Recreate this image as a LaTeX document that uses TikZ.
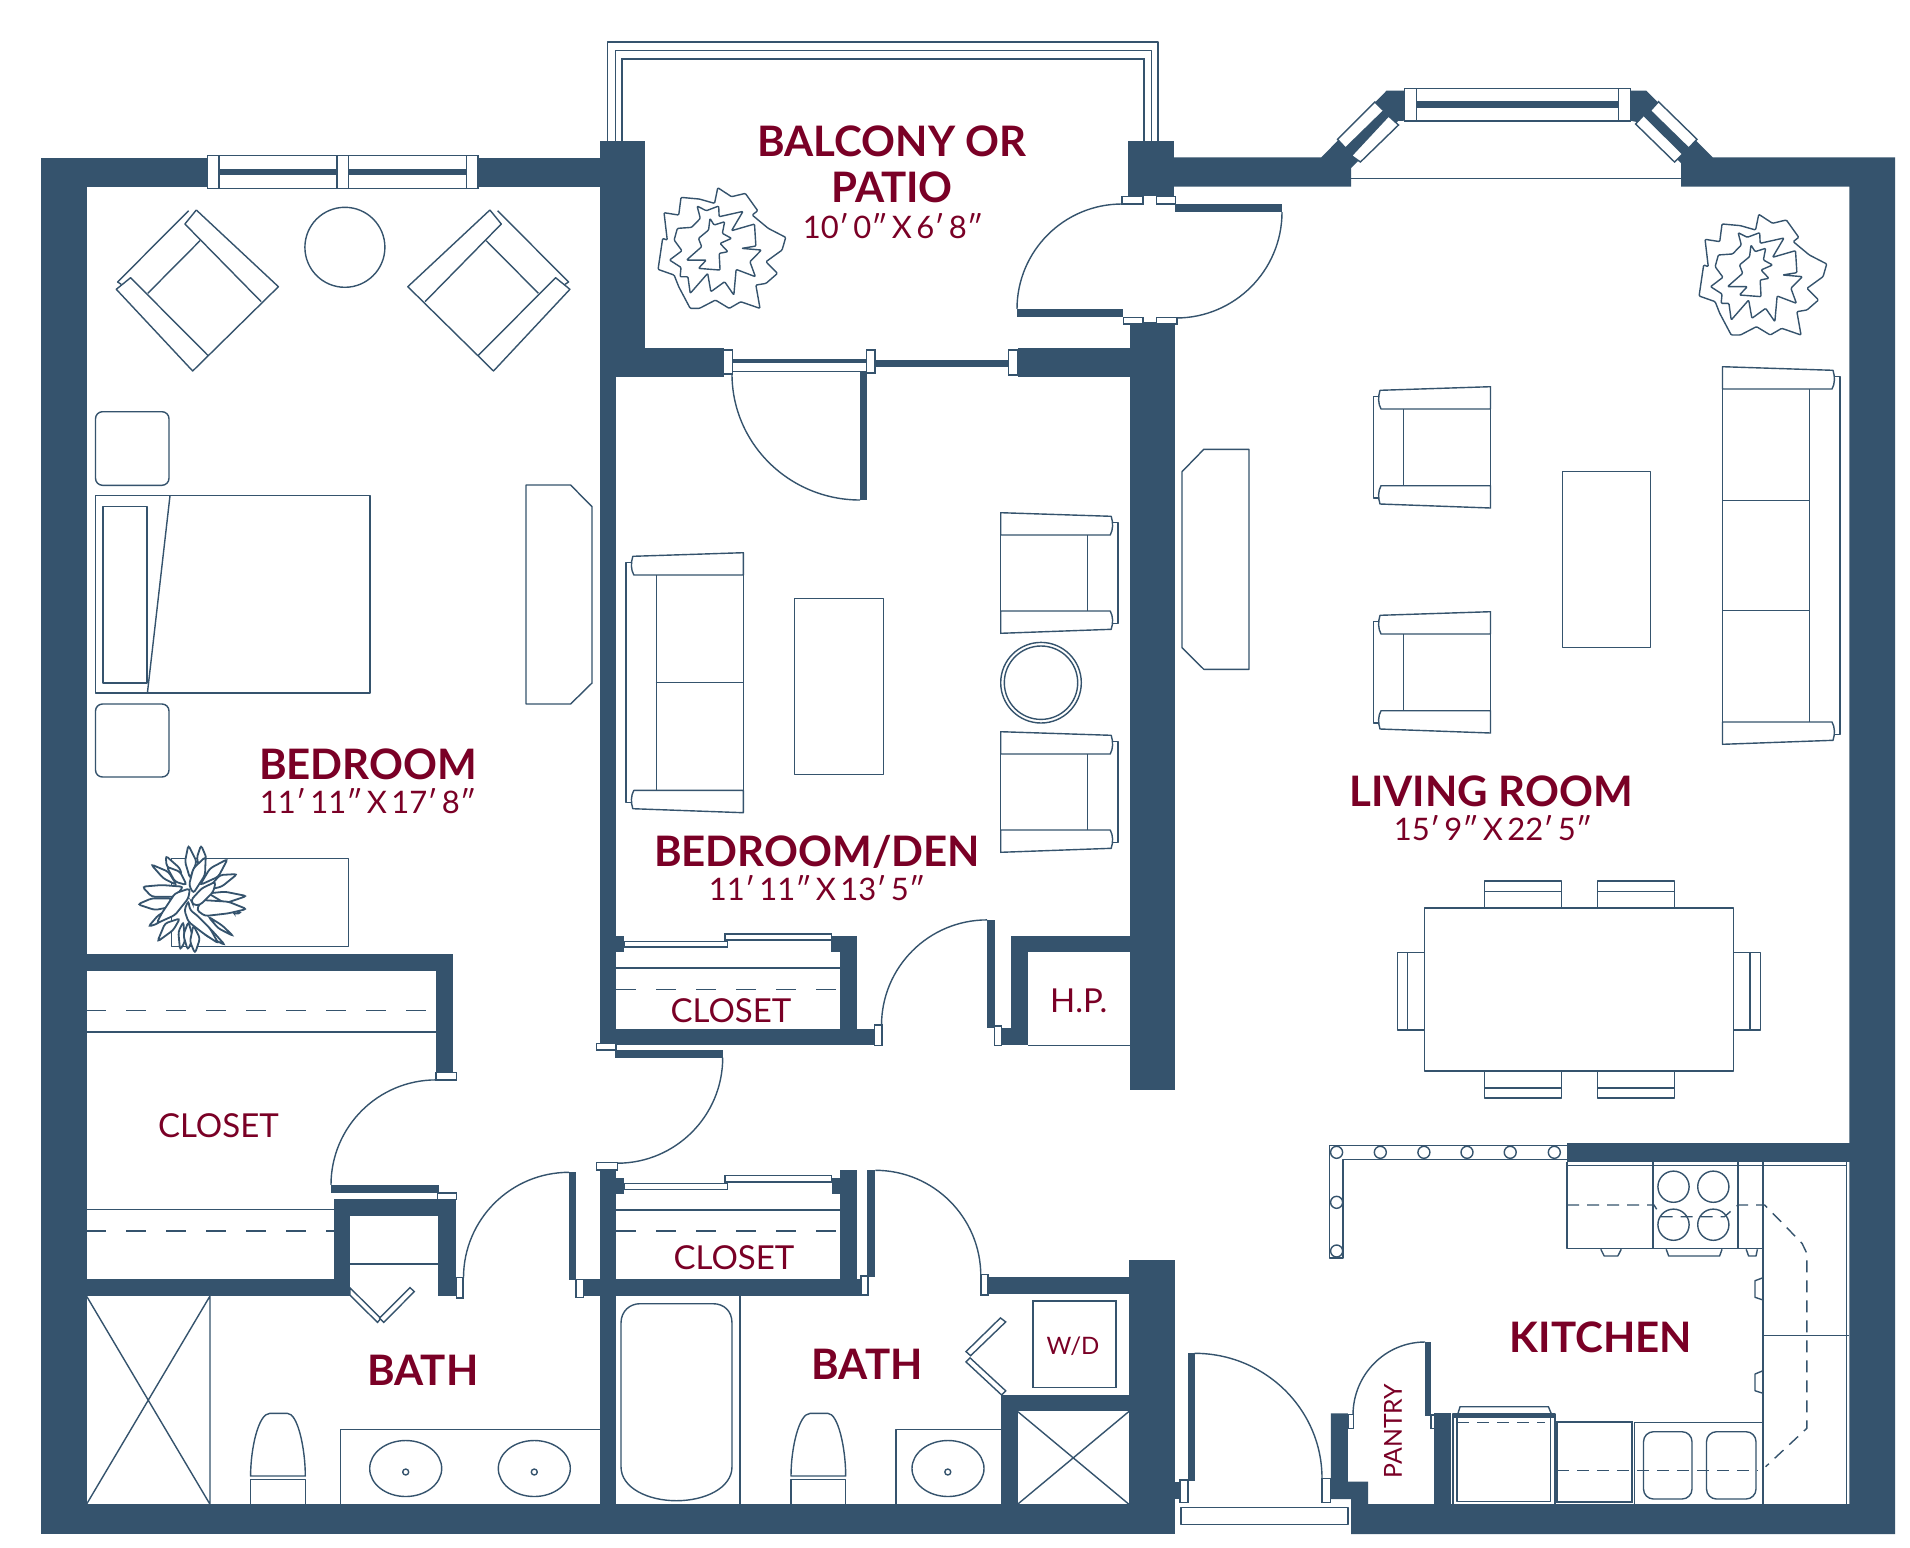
\documentclass[tikz,border=0pt]{standalone}
\usepackage{fontspec}
\setmainfont{Lato}
\usepackage{tikz}

\definecolor{wallblue}{RGB}{53,83,109}
\definecolor{roomred}{RGB}{122,0,38}

\tikzset{
	wall/.style={fill=wallblue,draw=none},
	thinline/.style={draw=wallblue,line width=0.7pt,line join=round},
	frame/.style={draw=wallblue,fill=white,line width=0.7pt},
	dashline/.style={draw=wallblue,line width=0.7pt,dash pattern=on 10pt off 10pt},
	kitchendash/.style={draw=wallblue,line width=0.7pt,dash pattern=on 6pt off 4pt},
	roomname/.style={text=roomred,font=\bfseries\fontsize{21}{21}\selectfont,inner sep=0pt},
	roomsize/.style={text=roomred,font=\fontsize{15.5}{16}\selectfont,inner sep=0pt},
	roomsmall/.style={text=roomred,font=\fontsize{16.5}{17}\selectfont,inner sep=0pt},
	leaf/.style={draw=wallblue,fill=white,line width=0.9pt,rounded corners=1.5pt}
}

% tight word spaces in the room sizes
\newcommand{\sizetext}[1]{\spaceskip=0.14em\relax #1}
% seat with two arms, also used for the sofas: x, y, direction, height
\newcommand{\seatblock}[4]{
	\begin{scope}[shift={(#1,#2)},xscale=#3]
		\draw[thinline] (0,0) -- (110.5,3.6) .. controls (112.5,10) and (112.5,17) .. (109.5,22.3) -- (0,22.3) -- cycle;
		\draw[thinline] (0,#4) -- (110.5,#4-4) .. controls (112.5,#4-10) and (112.5,#4-17) .. (109.5,#4-22.3) -- (0,#4-22.3) -- cycle;
		\draw[thinline] (0,22.3) -- (0,#4-22.3);
		\draw[thinline] (87,22.3) -- (87,#4-22.3);
		\draw[thinline] (111.5,10) -- (117.3,10) -- (117.3,#4-10) -- (111.5,#4-10);
	\end{scope}
}
% chair standing on a corner in the bedroom
\newcommand{\cornerchair}{
	\draw[thinline] (188.6,210.7) -- (117.6,282) -- (121.2,284.3);
	\draw[thinline] (196.3,210) -- (278.4,286.7) -- (192.7,371) -- (116.3,289.3) -- (130.6,277.7) -- (208.2,355.7);
	\draw[thinline] (196.3,210) -- (184.9,224) -- (261.2,301.7);
	\draw[thinline] (200,240.7) -- (147.8,293.3);
}
% toilet with its tank
\newcommand{\toilet}[1]{
	\begin{scope}[shift={(#1,0)}]
		\draw[thinline] (0,1476) .. controls (0,1448) and (8,1413.4) .. (19,1413.4) -- (37,1413.4) .. controls (47,1413.4) and (54.7,1448) .. (54.7,1476) -- cycle;
		\draw[thinline] (0,1504.3) -- (0,1479.3) -- (54.7,1479.3) -- (54.7,1504.3);
	\end{scope}
}
% bush, traced at the scale of the balcony one
\newcommand{\bush}[2]{
	\begin{scope}[shift={(#1,#2)},x=0.2296pt,y=0.1667pt]
		\draw[thinline,rounded corners=0.5pt] (300,503) -- (330,530) -- (360,520) -- (387,572) -- (375,585) -- (410,625) -- (448,652) -- (440,690) -- (405,725) -- (430,760) -- (405,790) -- (383,795) -- (392,865) -- (350,845) -- (325,865) -- (295,840) -- (260,865) -- (240,865) -- (215,800) -- (205,765) -- (170,748) -- (180,655) -- (190,660) -- (183,578) -- (215,585) -- (220,532) -- (260,537) -- (293,550) -- cycle;
		\draw[thinline,rounded corners=0.5pt] (255,558) -- (275,572) -- (302,558) -- (303,590) -- (355,574) -- (330,632) -- (380,612) -- (383,678) -- (352,685) -- (395,690) -- (370,725) -- (382,770) -- (340,748) -- (335,825) -- (315,785) -- (285,815) -- (278,760) -- (240,820) -- (235,770) -- (218,770) -- (220,742) -- (195,720) -- (222,692) -- (205,660) -- (212,625) -- (243,622) -- (262,595) -- cycle;
		\draw[thinline,rounded corners=0.5pt] (283,595) -- (292,615) -- (315,605) -- (310,640) -- (330,655) -- (305,670) -- (322,695) -- (303,700) -- (305,750) -- (258,745) -- (275,720) -- (232,720) -- (265,680) -- (258,655) -- (280,630) -- cycle;
	\end{scope}
}

\begin{document}
\begin{tikzpicture}[x=0.5pt,y=0.5pt,yscale=-1,xscale=1]
	\useasboundingbox (0,0) rectangle (1910,1547);
	\fill[white] (0,0) rectangle (1910,1547);

	%Balcony rails
	\draw[thinline] (607.5,142) -- (607.5,42) -- (1158,42) -- (1158,142);
	\draw[thinline] (615.4,142) -- (615.4,50.7) -- (1151.6,50.7) -- (1151.6,142);
	\draw[draw=wallblue,line width=1.1pt] (621.8,142) -- (621.8,58.7) -- (1143.8,58.7) -- (1143.8,142);

	%Walls
	\fill[wall] (41,157.5) rectangle (86.5,1534);
	\fill[wall] (41,157.5) rectangle (207.5,187);
	\fill[wall] (478,157.5) rectangle (600,187);
	\fill[wall] (600,141.3) rectangle (645,377);
	\fill[wall] (600,377) rectangle (616,1040.1);
	\fill[wall] (645,348) rectangle (723.5,377);
	\fill[wall] (1017.5,348) rectangle (1129.6,377);
	\fill[wall] (1127.7,141.3) rectangle (1173.7,196);
	\fill[wall] (1129.6,322) rectangle (1174.7,1089.8);
	%den closet
	\fill[wall] (616,935.5) rectangle (624,951.7);
	\fill[wall] (831.4,935.5) rectangle (856.7,951.7);
	\fill[wall] (840.4,935.5) rectangle (856.7,1045.3);
	\fill[wall] (600,1028.7) rectangle (874.7,1045.3);
	%lower closet
	\fill[wall] (600,1170) rectangle (616.3,1534);
	\fill[wall] (616,1177.7) rectangle (624,1194.3);
	\fill[wall] (840,1170) rectangle (856.7,1296);
	\fill[wall] (831.7,1177.7) rectangle (840,1194.3);
	\fill[wall] (583.7,1279.3) rectangle (860.8,1296);
	%bedroom closet
	\fill[wall] (86,953.7) rectangle (453,971);
	\fill[wall] (436,953.7) rectangle (453,1072.3);
	\fill[wall] (333.5,1199.2) rectangle (455.5,1216);
	\fill[wall] (438,1199.2) rectangle (455.5,1296);
	\fill[wall] (333.5,1199.2) rectangle (349.8,1296);
	\fill[wall] (86,1279.3) rectangle (349.8,1296);
	%H.P. closet
	\fill[wall] (1011.4,935.5) rectangle (1129.6,951.7);
	\fill[wall] (1011.4,935.5) rectangle (1028,1045.3);
	\fill[wall] (1001.6,1028) rectangle (1028,1045.3);
	%second bath and bottom
	\fill[wall] (1129,1260) rectangle (1174.7,1534);
	\fill[wall] (988,1277.4) rectangle (1129,1293.6);
	\fill[wall] (1001,1395) rectangle (1129,1411.4);
	\fill[wall] (1001,1395) rectangle (1017.5,1504.3);
	\fill[wall] (41,1504.3) rectangle (1174.7,1534);
	\fill[wall] (1174.7,1482) rectangle (1180,1499);
	%bay, living room side
	\fill[wall] (1173.7,157.3) -- (1321.4,157.3) -- (1386.5,90.7) -- (1404.5,90.7) -- (1404.5,120.7) -- (1398,121) -- (1351,168) -- (1351,186.7) -- (1173.7,186.7) -- cycle;
	\fill[wall] (1630,90.7) -- (1646.4,90.7) -- (1712.7,157.3) -- (1895,157.3) -- (1895,1534) -- (1351,1534) -- (1351,1499) -- (1330.8,1499) -- (1330.8,1413.3) -- (1347.8,1413.3) -- (1347.8,1481.7) -- (1368,1481.7) -- (1368,1504) -- (1849.3,1504) -- (1849.3,186.7) -- (1681,186.7) -- (1681,163) -- (1635.6,121.7) -- (1630,120.7) -- cycle;
	%kitchen
	\fill[wall] (1567,1143.3) rectangle (1850,1161.7);
	\fill[wall] (1433.6,1413.3) rectangle (1450.5,1504);

	%Windows
	\draw[frame] (207.3,155.7) rectangle (478,188.7);
	\draw[thinline] (219,155.7) -- (219,188.7) (337,155.7) -- (337,188.7) (348.6,155.7) -- (348.6,188.7) (466.5,155.7) -- (466.5,188.7);
	\fill[wall] (219,169.3) rectangle (337,175.3);
	\fill[wall] (348.6,169.3) rectangle (466.5,175.3);
	\draw[frame] (1404.5,88.3) rectangle (1630.3,121);
	\draw[thinline] (1416.6,88.3) -- (1416.6,121) (1618.3,88.3) -- (1618.3,121);
	\fill[wall] (1416.6,101.3) rectangle (1618.3,107.7);
	\draw[frame] (1337.5,139.3) -- (1345.5,148) -- (1383.7,110.7) -- (1374.8,102) -- cycle;
	\draw[frame] (1351.5,155.7) -- (1360.4,162) -- (1398.5,125) -- (1388.5,116) -- cycle;
	\draw[frame] (1658.5,101.7) -- (1650.4,110.7) -- (1688.6,148) -- (1697,139.3) -- cycle;
	\draw[frame] (1643.6,115.3) -- (1635.6,124) -- (1674.5,162) -- (1682.6,154) -- cycle;
	\draw[thinline] (1351,178.7) -- (1681,178.7);

	%Balcony door
	\draw[frame] (1121.8,196.7) rectangle (1142.9,204);
	\draw[frame] (1156.7,196.7) rectangle (1175.5,204);
	\draw[frame] (1123.6,317.3) rectangle (1142.9,324);
	\draw[frame] (1156.7,317.3) rectangle (1177,324);
	\fill[wall] (1174.6,203.7) rectangle (1282,212);
	\fill[wall] (1017,309) rectangle (1122.5,316.7);
	\draw[thinline] (1122,204) arc[start angle=-90,end angle=-180,radius=105];
	\draw[thinline] (1282,212) arc[start angle=0,end angle=90,radius=106];

	%Den slider and door
	\draw[frame] (732.4,360) rectangle (866.5,371.3);
	\fill[wall] (732.4,360) rectangle (866.5,362.5);
	\fill[wall] (875,360) rectangle (1008.4,366.7);
	\draw[frame] (723.7,350) rectangle (732.4,374);
	\draw[frame] (866.5,350) rectangle (874.8,373);
	\draw[frame] (1008.4,350) rectangle (1017.5,375);
	\fill[wall] (860,371) rectangle (867,500);
	\draw[thinline] (732,374) arc[start angle=180,end angle=90,x radius=128,y radius=126];

	%Closet doors of the den and the second bath
	\draw[frame] (624,941.3) rectangle (727.3,947);
	\draw[frame] (725,933.8) rectangle (831.7,940);
	\draw[frame] (624,1183.3) rectangle (727.3,1189.3);
	\draw[frame] (725,1175.7) rectangle (831.7,1182);
	\draw[thinline] (616,968.1) -- (840.4,968.1);
	\draw[dashline] (616,989.5) -- (840.4,989.5);
	\draw[thinline] (616,1210) -- (840,1210);
	\draw[dashline] (616,1231) -- (840,1231);

	%Hall doors
	\draw[frame] (874.3,1025) rectangle (882,1045.3);
	\fill[wall] (987,919.9) rectangle (995,1027.8);
	\draw[frame] (994.7,1025.8) rectangle (1001.6,1045.3);
	\draw[thinline] (987,919.9) arc[start angle=-90,end angle=-180,radius=105.5];
	\draw[thinline] (1028,1045.3) -- (1129.6,1045.3);
	\draw[frame] (596.7,1043.3) rectangle (616,1050);
	\fill[wall] (614.7,1050) rectangle (722.7,1057.7);
	\draw[thinline] (722.7,1057.7) arc[start angle=0,end angle=90,radius=105.5];
	\draw[frame] (596.7,1162.7) rectangle (617.3,1170);
	\draw[frame] (860.8,1276.1) rectangle (867.8,1295);
	\fill[wall] (867.3,1170) rectangle (875.3,1277.4);
	\draw[thinline] (875.3,1170.3) arc[start angle=-90,end angle=0,radius=105.5];
	\draw[frame] (981,1274.5) rectangle (988,1295);

	%Bedroom closet and first bath doors
	\draw[frame] (436,1072.3) rectangle (456.3,1079.9);
	\draw[thinline] (436,1079.9) arc[start angle=-90,end angle=-180,radius=105];
	\fill[wall] (330.6,1184.6) rectangle (438.8,1192.8);
	\draw[frame] (437.6,1192.8) rectangle (456.3,1199.2);
	\draw[thinline] (86,1032) -- (436,1032);
	\draw[dashline] (86,1010.3) -- (436,1010.3);
	\draw[thinline] (86,1209.5) -- (333.5,1209.5);
	\draw[dashline] (86,1231) -- (333.5,1231);
	\draw[thinline] (350,1263.8) -- (438,1263.8);
	\draw[frame] (456.3,1277.4) rectangle (463,1298);
	\draw[thinline] (569,1172.3) arc[start angle=-90,end angle=-180,radius=105.5];
	\fill[wall] (568.6,1172.3) rectangle (576,1280);
	\draw[frame] (576,1279.3) rectangle (583.7,1297.7);

	%Bi-fold doors
	\draw[frame] (349.8,1287.6) -- (349.8,1295) -- (377.5,1322.4) -- (380.8,1318.4) -- cycle;
	\draw[frame] (410,1287.6) -- (414.3,1291.6) -- (383.7,1322.4) -- (379.6,1318.1) -- cycle;
	\draw[frame] (1000.4,1317.9) -- (1005.7,1321.9) -- (970.6,1355.7) -- (966,1351.6) -- cycle;
	\draw[frame] (966,1361.9) -- (970,1357.8) -- (1005.7,1390.8) -- (1001.6,1395) -- cycle;

	%First bath fixtures
	\draw[thinline] (86.5,1296) -- (210,1504.3) (210,1296) -- (86.5,1504.3) (210,1296) -- (210,1504.3);
	\toilet{250.6}
	\draw[thinline] (340.4,1504.3) -- (340.4,1429.3) -- (600,1429.3);
	\draw[thinline] (405.7,1468.5) ellipse[x radius=36,y radius=28];
	\draw[thinline] (534.3,1468.5) ellipse[x radius=36,y radius=28];
	\draw[thinline] (405.7,1472) circle (3);
	\draw[thinline] (534.3,1472) circle (3);

	%Second bath fixtures
	\draw[thinline] (740,1296) -- (740,1504.3);
	\draw[thinline] (621,1323) .. controls (621,1311) and (630,1303.7) .. (640,1303.7) -- (713,1303.7) .. controls (724,1303.7) and (732,1311) .. (732,1323) -- (732,1466.7) .. controls (732,1488) and (705,1500.7) .. (676.5,1500.7) .. controls (648,1500.7) and (621,1488) .. (621,1466.7) -- cycle;
	\toilet{791}
	\draw[thinline] (896,1504.3) -- (896,1429.3) -- (1001,1429.3);
	\draw[thinline] (948,1468.5) ellipse[x radius=36,y radius=28];
	\draw[thinline] (947.8,1472) circle (3);
	\draw[thinline] (1017.5,1411.4) -- (1129,1504.3) (1129,1411.4) -- (1017.5,1504.3);
	\draw[draw=wallblue,line width=0.85pt] (1033,1300.8) rectangle (1116.3,1387.5);

	%Bedroom furniture
	\cornerchair
	\begin{scope}[shift={(686.2,0)},xscale=-1]
		\cornerchair
	\end{scope}
	\draw[thinline] (344.9,247.3) circle (40);
	\draw[thinline,rounded corners=3.5pt] (95.5,411.7) rectangle (169,485.3);
	\draw[thinline,rounded corners=3.5pt] (95.5,704) rectangle (169,777);
	\draw[thinline] (95.5,495.7) rectangle (369.8,693);
	\draw[thinline] (102.9,506.7) rectangle (147,683);
	\draw[thinline] (170,495.7) -- (147.4,693);
	\draw[thinline] (526,485) -- (570.6,485) -- (592,506.7) -- (592,683) -- (570.6,704) -- (526,704) -- cycle;
	\draw[thinline] (171.7,858.3) rectangle (348.3,946.7);

	%Agave
	\begin{scope}[shift={(125,835)},x=0.1667pt,y=0.1667pt]
		\draw[leaf] (190,30) -- (180,80) -- (195,130) -- (215,80) -- cycle;
		\draw[leaf] (228,30) -- (215,70) -- (225,100) -- (245,70) -- cycle;
		\draw[leaf] (122,62) -- (125,95) -- (170,120) -- (165,100) -- cycle;
		\draw[leaf] (78,88) -- (115,130) -- (155,150) -- (130,110) -- cycle;
		\draw[leaf] (125,95) -- (150,140) -- (185,150) -- (165,110) -- cycle;
		\draw[leaf] (308,72) -- (255,100) -- (225,150) -- (280,125) -- cycle;
		\draw[leaf] (337,117) -- (285,120) -- (245,165) -- (290,155) -- cycle;
		\draw[leaf] (52,155) -- (80,185) -- (150,185) -- (175,155) -- (110,150) -- cycle;
		\draw[leaf] (38,208) -- (90,225) -- (140,215) -- (140,190) -- (80,190) -- cycle;
		\draw[leaf] (365,183) -- (300,170) -- (250,175) -- (300,205) -- cycle;
		\draw[leaf] (350,232) -- (320,225) -- (330,238) -- cycle;
		\draw[leaf] (365,222) -- (310,200) -- (230,195) -- (215,225) -- (240,243) -- (310,235) -- cycle;
		\draw[leaf] (70,275) -- (100,265) -- (130,225) -- (100,240) -- cycle;
		\draw[leaf] (97,320) -- (145,285) -- (165,250) -- (120,265) -- cycle;
		\draw[leaf] (325,303) -- (290,270) -- (250,245) -- (280,280) -- cycle;
		\draw[leaf] (300,330) -- (255,280) -- (210,250) -- (240,300) -- cycle;
		\draw[leaf] (165,345) -- (180,320) -- (175,260) -- (160,290) -- cycle;
		\draw[leaf] (188,345) -- (205,310) -- (190,260) -- (175,300) -- cycle;
		\draw[leaf] (210,355) -- (225,310) -- (205,270) -- (195,320) -- cycle;
		\draw[leaf] (242,65) -- (205,100) -- (192,150) -- (205,175) -- (240,120) -- cycle;
		\draw[leaf] (190,197) -- (178,225) -- (190,260) -- (235,295) -- (280,325) -- (255,280) -- (215,240) -- (195,225) -- cycle;
		\draw[leaf] (195,160) -- (150,175) -- (110,235) -- (95,265) -- (150,240) -- (190,190) -- cycle;
		\draw[leaf] (272,140) -- (230,160) -- (198,195) -- (205,210) -- (225,210) -- (265,170) -- cycle;
	\end{scope}

	%Plants
	\bush{580}{20}
	\bush{1621}{46.6}

	%Den furniture
	\seatblock{743.3}{552.7}{-1}{260}
	\draw[thinline] (655.7,682.7) -- (743,682.7);
	\draw[thinline] (794.7,598.7) rectangle (883.3,774.7);
	\seatblock{1000.7}{512.7}{1}{120.6}
	\seatblock{1000.7}{731.7}{1}{120.6}
	\draw[thinline] (1041,682.7) circle (40.3);
	\draw[thinline] (1041,682.7) circle (36.7);

	%Living room furniture
	\draw[thinline] (1203.8,449.3) -- (1249,449.3) -- (1249,669.3) -- (1203.8,669.3) -- (1182,647.7) -- (1182,471.7) -- cycle;
	\seatblock{1490.5}{386.7}{-1}{121.3}
	\seatblock{1490.5}{611.7}{-1}{121.3}
	\draw[thinline] (1562.5,471.7) rectangle (1650.5,647.3);
	\seatblock{1722.5}{366.7}{1}{377.6}
	\draw[thinline] (1722.5,500.3) -- (1809.6,500.3) (1722.5,610.7) -- (1809.6,610.7);

	%Dining set
	\draw[thinline] (1424.3,908) rectangle (1733.3,1071);
	\foreach \chairx in {1484.3,1597.7} {
		\draw[thinline] (\chairx,908) -- (\chairx,881) -- (\chairx+77,881) -- (\chairx+77,908);
		\draw[thinline] (\chairx,891.3) -- (\chairx+77,891.3);
		\draw[thinline] (\chairx,1071) -- (\chairx,1098) -- (\chairx+77,1098) -- (\chairx+77,1071);
		\draw[thinline] (\chairx,1088) -- (\chairx+77,1088);
	}
	\draw[thinline] (1424.3,952.7) -- (1397.3,952.7) -- (1397.3,1030) -- (1424.3,1030) (1407.3,952.7) -- (1407.3,1030);
	\draw[thinline] (1733.3,952.7) -- (1760.3,952.7) -- (1760.3,1030) -- (1733.3,1030) (1750,952.7) -- (1750,1030);

	%Breakfast bar
	\draw[thinline] (1567,1145.3) -- (1329.4,1145.3) -- (1329.4,1258) -- (1343,1258) -- (1343,1159.3) -- (1567,1159.3);
	\foreach \knobx in {1336.6,1380.3,1423.9,1467,1510.2,1554.3} {
		\draw[thinline] (\knobx,1152.3) circle (6);
	}
	\draw[thinline] (1336.6,1202.3) circle (6);
	\draw[thinline] (1336.6,1251) circle (6);

	%Kitchen cabinets
	\draw[thinline] (1567,1165.7) -- (1846.6,1165.7);
	\draw[thinline] (1567,1161.7) -- (1567,1248.7) -- (1763,1248.7);
	\draw[thinline] (1653,1161.7) -- (1653,1248.7) (1738,1161.7) -- (1738,1248.7);
	\draw[thinline] (1763,1161.7) -- (1763,1504) (1846.6,1161.7) -- (1846.6,1504);
	\draw[thinline] (1763,1335.7) -- (1849.3,1335.7);
	\foreach \burnx/\burny in {1673.5/1186.7,1713.3/1186.7,1673.5/1224.7,1713.3/1224.7} {
		\draw[thinline] (\burnx,\burny) circle (15.6);
	}
	\draw[thinline] (1600.8,1249.3) -- (1604.2,1256) -- (1617.8,1256) -- (1621.2,1249.3);
	\draw[thinline] (1666.2,1249.3) -- (1668.7,1256) -- (1719.6,1256) -- (1722,1249.3);
	\draw[thinline] (1746.2,1249.3) -- (1748.6,1256) -- (1756,1256) -- (1757.4,1249.3);
	\draw[thinline] (1763,1277.7) -- (1755,1280.7) -- (1755,1297.3) -- (1763,1300);
	\draw[thinline] (1763,1370.7) -- (1755,1374) -- (1755,1390.7) -- (1763,1393.3);
	\draw[thinline] (1634.7,1504) -- (1634.7,1422.7) -- (1763,1422.7);
	\draw[thinline,rounded corners=5pt] (1643.5,1431.7) rectangle (1692,1499);
	\draw[thinline,rounded corners=5pt] (1706.5,1431.7) rectangle (1756,1499);
	\draw[draw=wallblue,line width=0.85pt] (1557,1422.3) rectangle (1631.8,1502.3);
	\draw[kitchendash] (1567,1205) -- (1654,1205) -- (1661.4,1216.7) -- (1724.4,1216.7) -- (1738,1205) -- (1764.7,1205) -- (1802,1243.3) -- (1806.8,1253.3) -- (1806.8,1428.3) -- (1765.6,1466.7);
	\draw[kitchendash] (1557,1470.7) -- (1758,1470.7);

	%Stove
	\draw[thinline] (1457.8,1414) -- (1460,1406.7) -- (1548.4,1406.7) -- (1551.4,1414);
	\draw[thinline] (1456.8,1414) rectangle (1550.4,1501.7);
	\draw[thinline] (1453,1504) -- (1453,1414) -- (1554.8,1414) -- (1554.8,1504);
	\fill[wall] (1453,1414) rectangle (1554.8,1418.3);
	\draw[kitchendash] (1457,1422.7) -- (1545,1422.7);

	%Pantry and entry doors
	\fill[wall] (1425.3,1341.7) rectangle (1431,1416);
	\draw[thinline] (1425,1342) arc[start angle=-90,end angle=-180,x radius=72,y radius=73];
	\draw[frame] (1348.7,1414.7) rectangle (1353.6,1428.3);
	\draw[frame] (1431,1415) rectangle (1434.5,1428.3);
	\fill[wall] (1187.8,1353.3) rectangle (1194.6,1481);
	\draw[thinline] (1194.6,1353.3) arc[start angle=-90,end angle=0,x radius=127.4,y radius=125];
	\draw[frame] (1180,1480) rectangle (1187.8,1502.3);
	\draw[frame] (1322,1478.3) rectangle (1330.3,1502.7);
	\draw[thinline] (1181,1507.7) rectangle (1347.8,1524.3);

	% Text Node
	\node[roomname] (balconyname) at (892,141) {BALCONY OR};
	\node[roomname] (pationame) at (892,187) {PATIO};
	\node[roomsize] (balconysize) at (893,226) {\sizetext{10′ 0″ X 6′ 8″}};
	\node[roomname] (bedroomname) at (368,764) {BEDROOM};
	\node[roomsize] (bedroomsize) at (368,801) {\sizetext{11′ 11″ X 17′ 8″}};
	\node[roomname] (denname) at (817,852) {BEDROOM/DEN};
	\node[roomsize] (densize) at (817,888.5) {\sizetext{11′ 11″ X 13′ 5″}};
	\node[roomname] (livingname) at (1491,791.5) {LIVING ROOM};
	\node[roomsize] (livingsize) at (1493,828) {\sizetext{15′ 9″ X 22′ 5″}};
	\node[roomname] (kitchenname) at (1601,1337) {KITCHEN};
	\node[roomname] (bathonename) at (423,1370) {BATH};
	\node[roomname] (bathtwoname) at (867,1364) {BATH};
	\node[roomsmall] (closetone) at (218.4,1126) {CLOSET};
	\node[roomsmall] (closettwo) at (731,1010.5) {CLOSET};
	\node[roomsmall] (closetthree) at (734,1258) {CLOSET};
	\node[roomsmall] (hpname) at (1078.8,1001) {H.P.};
	\node[text=roomred,font=\fontsize{12}{12}\selectfont,inner sep=0pt] (wdname) at (1073,1346.5) {W/D};
	\node[text=roomred,font=\fontsize{12.4}{13}\selectfont,inner sep=0pt,rotate=90] (pantryname) at (1393,1431) {PANTRY};
\end{tikzpicture}
\end{document}
